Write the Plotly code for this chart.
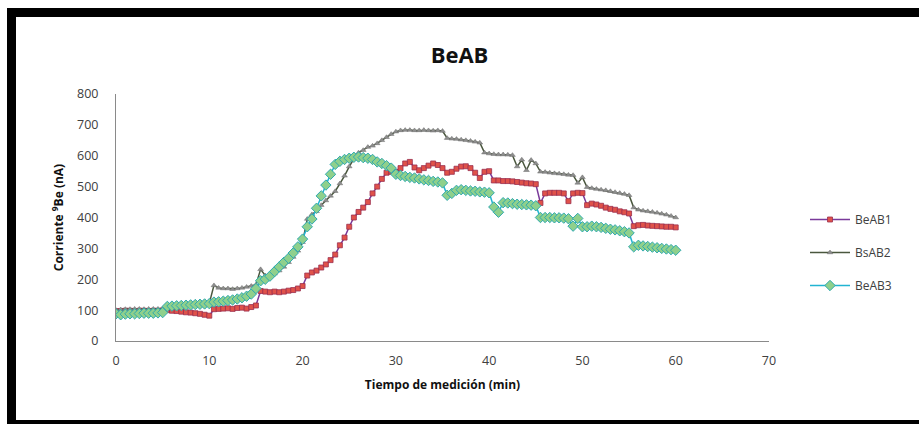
import plotly.graph_objects as go

# Measurement time (min), one reading every 30 s
tiempo = [i * 0.5 for i in range(121)]

# Beam current of 9Be (nA) for each run
beab1 = [
    97, 97, 98, 98, 97, 98, 98, 97, 98, 98, 99,
    100, 98, 97, 95, 93, 92, 90, 88, 85, 82,
    103, 104, 105, 106, 104, 107, 108, 105, 110, 115,
    162, 160, 158, 160, 158, 160, 163, 165, 170, 178,
    212, 222, 228, 238, 248, 262, 280, 310, 335, 370,
    400, 418, 432, 450, 478, 500, 525, 545, 548, 548,
    560, 575, 580, 562, 553, 560, 568, 575, 570, 560,
    545, 548, 558, 565, 566, 560, 545, 528, 548, 550,
    520, 520, 518, 518, 517, 515, 513, 511, 510, 508,
    447, 478, 480, 480, 480, 478, 453, 478, 480, 479,
    440, 445, 442, 438, 432, 428, 425, 420, 417, 413,
    372, 375, 376, 374, 373, 372, 371, 370, 370, 368,
]

bsab2 = [
    100, 102, 103, 103, 104, 104, 103, 104, 104, 104, 105,
    118, 118, 119, 119, 120, 120, 120, 121, 122, 122,
    180, 172, 170, 170, 168, 170, 172, 175, 178, 182,
    232, 212, 210, 218, 228, 240, 255, 272, 292, 320,
    395, 410, 420, 440, 455, 470, 485, 510, 535, 565,
    590, 610, 618, 628, 632, 640, 650, 660, 670, 678,
    682, 683, 683, 682, 682, 683, 682, 681, 682, 680,
    657, 655, 654, 652, 650, 648, 645, 642, 610, 607,
    605, 604, 604, 603, 602, 565, 587, 553, 586, 575,
    548, 547, 545, 543, 542, 540, 538, 537, 512, 530,
    498, 495, 492, 490, 488, 485, 482, 479, 476, 472,
    432, 425, 422, 420, 418, 415, 412, 409, 405, 400,
]

beab3 = [
    88, 85, 87, 88, 88, 89, 90, 90, 90, 91, 92,
    112, 113, 114, 115, 116, 117, 118, 119, 120, 121,
    126, 127, 129, 131, 133, 136, 140, 145, 152, 170,
    195, 200, 210, 225, 240, 255, 268, 285, 305, 330,
    370, 395, 430, 470, 505, 540, 572, 582, 588, 592,
    595, 596, 594, 592, 588, 580, 575, 568, 560, 540,
    536, 533, 530, 528, 525, 522, 520, 517, 515, 512,
    472, 478, 488, 490, 488, 486, 485, 483, 482, 480,
    434, 417, 448, 447, 445, 443, 442, 441, 440, 438,
    400, 400, 400, 399, 399, 398, 396, 372, 397, 370,
    370, 372, 370, 368, 365, 362, 360, 357, 354, 350,
    305, 310, 308, 306, 304, 302, 300, 298, 296, 294,
]

nombres = ["BeAB1", "BsAB2", "BeAB3"]

FONT = "Open Sans"

fig = go.Figure()

fig.add_trace(go.Scatter(
    x=tiempo, y=beab1, name=nombres[0], mode="lines+markers",
    line=dict(color="#7A3A9A", width=1.5),
    marker=dict(symbol="square", size=5, color="#E0524A",
                line=dict(color="#9A2E4E", width=0.8)),
    legendgroup="a",
))
fig.add_trace(go.Scatter(
    x=tiempo, y=bsab2, name=nombres[1], mode="lines+markers",
    line=dict(color="#4A573E", width=1.5),
    marker=dict(symbol="triangle-up", size=5, color="#8E8E8E",
                line=dict(color="#6E6E6E", width=0.5)),
    legendgroup="b",
))
fig.add_trace(go.Scatter(
    x=tiempo, y=beab3, name=nombres[2], mode="lines+markers",
    line=dict(color="#22B4D2", width=1.5),
    marker=dict(symbol="diamond", size=8, color="#8FD08C",
                line=dict(color="#2FAAB0", width=1)),
    legendgroup="c",
))

# Black frame on the top, left and bottom edges of the image
L, R, T, B = 116, 769, 94, 341
W, H = R - L, B - T


def px(x):
    return (x - L) / W


def py(y):
    return (B - y) / H


frame = [
    (7, 8, 919, 17),
    (7, 8, 16, 424),
    (7, 420, 919, 424),
]
shapes = [
    dict(type="rect", xref="paper", yref="paper",
         x0=px(x0), x1=px(x1), y0=py(y1), y1=py(y0),
         fillcolor="black", line=dict(width=0), layer="above")
    for x0, y0, x1, y1 in frame
]

fig.update_layout(
    width=919, height=424,
    margin=dict(l=L, r=919 - R, t=T, b=424 - B, pad=0),
    paper_bgcolor="white", plot_bgcolor="white",
    font=dict(family=FONT, size=12, color="#404040"),
    title=dict(text="<b>BeAB</b>", x=0.5, xref="container",
               y=1 - 55 / 424, yref="container", yanchor="middle",
               xanchor="center",
               font=dict(family=FONT, size=22, color="#111111")),
    showlegend=True,
    legend=dict(x=px(805), y=py(205), xanchor="left", yanchor="top",
                font=dict(family=FONT, size=12, color="#404040"),
                tracegroupgap=14, traceorder="grouped", itemwidth=40,
                bgcolor="rgba(0,0,0,0)"),
    shapes=shapes,
)

fig.update_xaxes(
    range=[0, 70], dtick=10, tick0=0,
    showline=True, linecolor="#8A8A8A", linewidth=1,
    showgrid=False, zeroline=False, ticks="",
    ticklabelstandoff=8,
    tickfont=dict(family=FONT, size=12.5, color="#404040"),
    title=dict(text="<b>Tiempo de medición (min)</b>", standoff=12,
               font=dict(family=FONT, size=12, color="#111111")),
)
fig.update_yaxes(
    range=[0, 800], dtick=100, tick0=0,
    showline=True, linecolor="#8A8A8A", linewidth=1,
    showgrid=False, zeroline=False, ticks="",
    ticklabelstandoff=14,
    tickfont=dict(family=FONT, size=12.5, color="#404040"),
    title=dict(text="<b>Corriente <sup>9</sup>Be (nA)</b>", standoff=10,
               font=dict(family=FONT, size=12, color="#111111")),
)

fig.write_html("out.html")
